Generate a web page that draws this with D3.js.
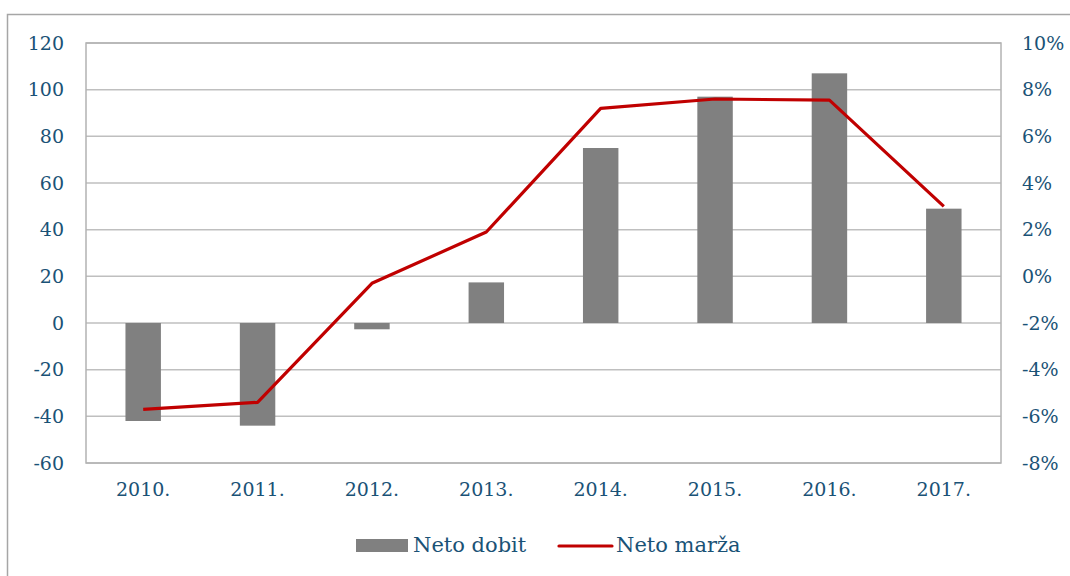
<!DOCTYPE html>
<html>
<head>
<meta charset="utf-8">
<script src="https://cdn.jsdelivr.net/npm/d3@7"></script>
<style>
  body { margin: 0; background: #fff; }
  text { font-family: "DejaVu Serif", Georgia, serif; fill: #1a5276; }
</style>
</head>
<body>
<div id="chart"></div>
<script>
var years = ["2010.", "2011.", "2012.", "2013.", "2014.", "2015.", "2016.", "2017."];
var netoDobit = [-42, -44, -2.7, 17.4, 75, 97, 107, 49];
var netoMarza = [-5.7, -5.4, -0.3, 1.9, 7.2, 7.6, 7.55, 3.0];
var leftTicks = [-60, -40, -20, 0, 20, 40, 60, 80, 100, 120];
var rightTicks = [-8, -6, -4, -2, 0, 2, 4, 6, 8, 10];

var width = 1070, height = 576;
var margin = {top: 43, right: 69, bottom: 113, left: 86};
var w = width - margin.left - margin.right,
    h = height - margin.top - margin.bottom;

var svg = d3.select("#chart").append("svg")
  .attr("width", width)
  .attr("height", height);

// outer frame
svg.append("rect")
  .attr("x", 7.5).attr("y", 14.5)
  .attr("width", 1070).attr("height", 600)
  .attr("fill", "none")
  .attr("stroke", "#a6a6a6")
  .attr("stroke-width", 1.5);

var g = svg.append("g")
  .attr("transform", "translate(" + margin.left + "," + margin.top + ")");

var x = d3.scaleBand().domain(years).range([0, w]);
var yL = d3.scaleLinear().domain([-60, 120]).range([h, 0]);
var yR = d3.scaleLinear().domain([-8, 10]).range([h, 0]);

// gridlines
g.selectAll(".grid")
  .data(leftTicks)
  .enter().append("line")
  .attr("x1", 0).attr("x2", w)
  .attr("y1", function(d) { return yL(d); })
  .attr("y2", function(d) { return yL(d); })
  .attr("stroke", "#bfbfbf")
  .attr("stroke-width", 1.5);

// plot border
g.append("rect")
  .attr("width", w).attr("height", h)
  .attr("fill", "none")
  .attr("stroke", "#b3b3b3")
  .attr("stroke-width", 1.5);

// bars
var barW = x.bandwidth() * 0.31;
g.selectAll(".bar")
  .data(netoDobit)
  .enter().append("rect")
  .attr("x", function(d, i) { return x(years[i]) + x.bandwidth() / 2 - barW / 2; })
  .attr("y", function(d) { return yL(Math.max(0, d)); })
  .attr("width", barW)
  .attr("height", function(d) { return Math.abs(yL(d) - yL(0)); })
  .attr("fill", "#808080");

// line
var line = d3.line()
  .x(function(d, i) { return x(years[i]) + x.bandwidth() / 2; })
  .y(function(d) { return yR(d); });

g.append("path")
  .datum(netoMarza)
  .attr("d", line)
  .attr("fill", "none")
  .attr("stroke", "#c00000")
  .attr("stroke-width", 3.2)
  .attr("stroke-linejoin", "round");

// axes (plain hyphen for negatives, as in the original)
var axL = d3.axisLeft(yL).tickValues(leftTicks).tickSize(0).tickPadding(22)
  .tickFormat(function(d) { return String(d); });
var axR = d3.axisRight(yR).tickValues(rightTicks).tickSize(0).tickPadding(21)
  .tickFormat(function(d) { return String(d) + "%"; });
var axB = d3.axisBottom(x).tickSize(0).tickPadding(20);

[g.append("g").call(axL),
 g.append("g").attr("transform", "translate(" + w + ",0)").call(axR),
 g.append("g").attr("transform", "translate(0," + h + ")").call(axB)
].forEach(function(a) {
  a.select(".domain").remove();
  a.selectAll("text")
    .style("font-size", "19px")
    .attr("fill", "#1a5276");
});

// legend
var lg = svg.append("g");
lg.append("rect")
  .attr("x", 356).attr("y", 539)
  .attr("width", 52).attr("height", 13)
  .attr("fill", "#808080");
lg.append("text")
  .attr("x", 413).attr("y", 552)
  .style("font-size", "21px")
  .text("Neto dobit");
lg.append("line")
  .attr("x1", 559).attr("x2", 612)
  .attr("y1", 546).attr("y2", 546)
  .attr("stroke", "#c00000")
  .attr("stroke-width", 3.2)
  .attr("stroke-linecap", "round");
lg.append("text")
  .attr("x", 616).attr("y", 552)
  .style("font-size", "21px")
  .text("Neto marža");
</script>
</body>
</html>
